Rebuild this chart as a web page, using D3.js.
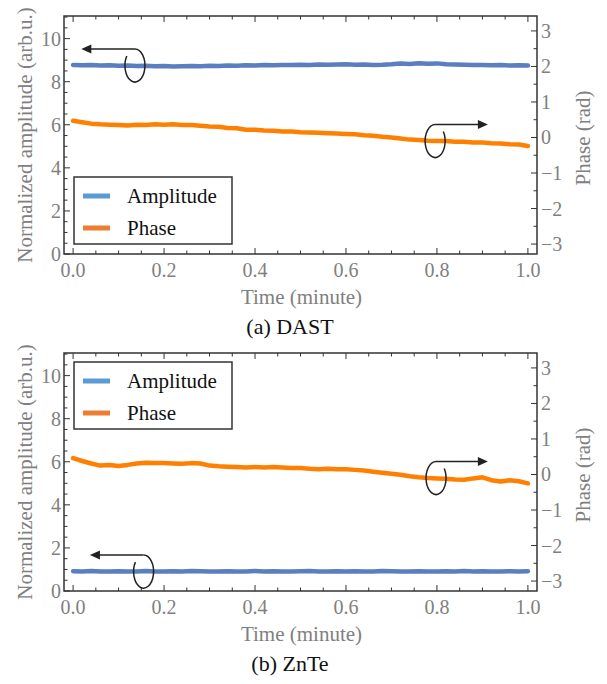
<!DOCTYPE html>
<html>
<head>
<meta charset="utf-8">
<script src="https://cdn.jsdelivr.net/npm/d3@7"></script>
</head>
<body style="margin:0">
<script>
// sampling times (minute)
var time = [0.00,0.02,0.04,0.06,0.08,0.10,0.12,0.14,0.16,0.18,
            0.20,0.22,0.24,0.26,0.28,0.30,0.32,0.34,0.36,0.38,
            0.40,0.42,0.44,0.46,0.48,0.50,0.52,0.54,0.56,0.58,
            0.60,0.62,0.64,0.66,0.68,0.70,0.72,0.74,0.76,0.78,
            0.80,0.82,0.84,0.86,0.88,0.90,0.92,0.94,0.96,0.98,1.00];

// (a) DAST
var ampA = [8.78,8.76,8.77,8.75,8.76,8.74,8.75,8.73,8.74,8.72,
            8.73,8.71,8.72,8.73,8.72,8.74,8.73,8.75,8.74,8.76,
            8.75,8.77,8.76,8.78,8.77,8.79,8.78,8.80,8.79,8.80,
            8.81,8.79,8.80,8.78,8.79,8.81,8.84,8.82,8.86,8.83,
            8.85,8.81,8.80,8.79,8.77,8.78,8.76,8.77,8.75,8.76,8.75];
var phaseA = [0.47,0.43,0.39,0.37,0.36,0.35,0.34,0.36,0.35,0.37,
              0.36,0.37,0.35,0.35,0.33,0.31,0.30,0.27,0.26,0.22,
              0.22,0.20,0.19,0.17,0.17,0.15,0.14,0.13,0.12,0.11,
              0.10,0.09,0.06,0.05,0.02,0.00,-0.03,-0.06,-0.07,-0.09,
              -0.10,-0.10,-0.12,-0.12,-0.14,-0.14,-0.16,-0.17,-0.19,-0.20,-0.24];

// (b) ZnTe
var ampB = [0.92,0.91,0.93,0.90,0.91,0.92,0.90,0.91,0.93,0.91,
            0.90,0.92,0.91,0.93,0.92,0.90,0.91,0.92,0.90,0.91,
            0.93,0.91,0.92,0.90,0.91,0.92,0.93,0.91,0.90,0.92,
            0.91,0.92,0.90,0.91,0.93,0.92,0.90,0.91,0.92,0.91,
            0.90,0.92,0.91,0.93,0.91,0.92,0.90,0.91,0.92,0.91,0.92];
var phaseB = [0.46,0.38,0.31,0.25,0.27,0.24,0.27,0.31,0.33,0.32,
              0.32,0.31,0.30,0.32,0.31,0.25,0.23,0.22,0.21,0.20,
              0.21,0.20,0.21,0.20,0.18,0.18,0.16,0.15,0.16,0.15,
              0.15,0.13,0.11,0.08,0.05,0.02,-0.01,-0.05,-0.08,-0.10,
              -0.11,-0.12,-0.14,-0.15,-0.11,-0.08,-0.16,-0.20,-0.16,-0.19,-0.25];

var seriesNames = ["Amplitude", "Phase"];
var captions = ["(a) DAST", "(b) ZnTe"];
var xTicks = [0, 0.2, 0.4, 0.6, 0.8, 1.0];
var leftTicks = [0, 2, 4, 6, 8, 10];
var rightTicks = [-3, -2, -1, 0, 1, 2, 3];

var W = 607, H = 684;
var left = 64, right = 537, plotH = 238;
var gray = "#808080", frameCol = "#333";
var lineCols = ["#5a7ebf", "#ff8000"];
var swatchCols = ["#5b9bd5", "#ed7d31"];

var svg = d3.select("body").append("svg")
  .attr("width", W).attr("height", H)
  .style("font-family", "serif");

var x = d3.scaleLinear().domain([-0.02, 1.02]).range([left, right]);

function addText(sel, size, fill) {
  return sel.append("text")
    .style("font-family", "serif")
    .attr("font-size", size)
    .attr("fill", fill);
}

function drawPanel(top, amp, phase, caption, legendY, arrowL, arrowR) {
  var bottom = top + plotH;
  var yL = d3.scaleLinear().domain([0, 11.05]).range([bottom, top]);
  var yR = d3.scaleLinear().domain([-3.28, 3.42]).range([bottom, top]);
  var g = svg.append("g");

  // data lines
  var ampLine = d3.line().x(function(d, i){ return x(time[i]); }).y(function(d){ return yL(d); });
  var phLine = d3.line().x(function(d, i){ return x(time[i]); }).y(function(d){ return yR(d); });
  g.append("path").datum(amp).attr("d", ampLine)
    .attr("fill", "none").attr("stroke", lineCols[0]).attr("stroke-width", 4.5)
    .attr("stroke-linejoin", "round").attr("stroke-linecap", "round");
  g.append("path").datum(phase).attr("d", phLine)
    .attr("fill", "none").attr("stroke", lineCols[1]).attr("stroke-width", 4.5)
    .attr("stroke-linejoin", "round").attr("stroke-linecap", "round");

  // ticks (inside the frame)
  var minorX = d3.range(0, 1.0001, 0.05);
  function isMajorX(d){ return xTicks.some(function(t){ return Math.abs(t - d) < 1e-6; }); }
  g.selectAll(null).data(minorX).enter().append("line")
    .attr("x1", function(d){ return x(d); }).attr("x2", function(d){ return x(d); })
    .attr("y1", bottom).attr("y2", function(d){ return bottom - (isMajorX(d) ? 6 : 3.5); })
    .attr("stroke", frameCol).attr("stroke-width", 1);
  g.selectAll(null).data(minorX).enter().append("line")
    .attr("x1", function(d){ return x(d); }).attr("x2", function(d){ return x(d); })
    .attr("y1", top).attr("y2", function(d){ return top + (isMajorX(d) ? 6 : 3.5); })
    .attr("stroke", frameCol).attr("stroke-width", 1);
  var minorL = d3.range(0, 11.01, 0.5);
  g.selectAll(null).data(minorL).enter().append("line")
    .attr("y1", function(d){ return yL(d); }).attr("y2", function(d){ return yL(d); })
    .attr("x1", left).attr("x2", function(d){ return left + (d % 2 === 0 ? 6 : 3.5); })
    .attr("stroke", frameCol).attr("stroke-width", 1);
  var minorR = d3.range(-3, 3.01, 0.5);
  g.selectAll(null).data(minorR).enter().append("line")
    .attr("y1", function(d){ return yR(d); }).attr("y2", function(d){ return yR(d); })
    .attr("x1", right).attr("x2", function(d){ return right - (d % 1 === 0 ? 6 : 3.5); })
    .attr("stroke", frameCol).attr("stroke-width", 1);

  // frame
  g.append("rect").attr("x", left).attr("y", top)
    .attr("width", right - left).attr("height", plotH)
    .attr("fill", "none").attr("stroke", frameCol).attr("stroke-width", 1.5);

  // tick labels
  xTicks.forEach(function(d){
    addText(g, 20, gray).attr("x", x(d)).attr("y", bottom + 23)
      .attr("text-anchor", "middle").text(d3.format(".1f")(d));
  });
  leftTicks.forEach(function(d){
    addText(g, 20, gray).attr("x", left - 3).attr("y", yL(d) + 7)
      .attr("text-anchor", "end").text(d);
  });
  rightTicks.forEach(function(d){
    addText(g, 20, gray).attr("x", right + 4).attr("y", yR(d) + 7)
      .attr("text-anchor", "start").text(d < 0 ? "\u2212" + (-d) : d);
  });

  // axis labels
  addText(g, 21, gray).attr("transform", "translate(32," + (top + plotH / 2) + ") rotate(-90)")
    .attr("text-anchor", "middle")
    .text("Normalized amplitude (arb.u.)");
  addText(g, 21, gray).attr("transform", "translate(590," + (top + plotH / 2 + 3) + ") rotate(-90)")
    .attr("text-anchor", "middle")
    .text("Phase (rad)");
  addText(g, 21, gray).attr("x", (left + right) / 2 + 1).attr("y", bottom + 50)
    .attr("text-anchor", "middle")
    .text("Time (minute)");
  addText(g, 22, "#111").attr("x", 290).attr("y", bottom + 80)
    .attr("text-anchor", "middle")
    .text(caption);

  // legend
  var lg = g.append("g").attr("transform", "translate(74," + (top + legendY) + ")");
  lg.append("rect").attr("width", 158).attr("height", 67)
    .attr("fill", "#fff").attr("stroke", frameCol).attr("stroke-width", 1.5);
  seriesNames.forEach(function(name, i){
    var yy = 19 + i * 32;
    lg.append("line").attr("x1", 9).attr("x2", 36).attr("y1", yy).attr("y2", yy)
      .attr("stroke", swatchCols[i]).attr("stroke-width", 5);
    addText(lg, 21, "#111").attr("x", 53).attr("y", yy + 7).text(name);
  });

  // rotation arrows pointing to each axis
  drawArrow(g, x(arrowL.t), yL(arrowL.v), x(arrowL.tip), -1);
  drawArrow(g, x(arrowR.t), yR(arrowR.v), x(arrowR.tip), 1);
}

function drawArrow(g, cx, cy, tipX, dir) {
  var rx = 10, ry = 16.5;
  var a = (dir < 0 ? 215 : -35) * Math.PI / 180;
  var ex = cx + rx * Math.cos(a), ey = cy + ry * Math.sin(a);
  g.append("path")
    .attr("d", "M" + cx + "," + (cy - ry) + " A" + rx + "," + ry + " 0 1 " + (dir < 0 ? 1 : 0) + " " + ex + "," + ey)
    .attr("fill", "none").attr("stroke", "#222").attr("stroke-width", 1.5);
  var ly = cy - ry;
  g.append("line").attr("x1", cx).attr("y1", ly).attr("x2", tipX - dir * 6).attr("y2", ly)
    .attr("stroke", "#222").attr("stroke-width", 1.5);
  g.append("path")
    .attr("d", "M" + tipX + "," + ly + " L" + (tipX - dir * 10) + "," + (ly - 4.5) + " L" + (tipX - dir * 10) + "," + (ly + 4.5) + "Z")
    .attr("fill", "#222");
}

drawPanel(16, ampA, phaseA, captions[0], 161,
  {t: 0.136, v: 8.75, tip: 0.018}, {t: 0.796, v: -0.10, tip: 0.912});
drawPanel(353, ampB, phaseB, captions[1], 9,
  {t: 0.155, v: 0.9, tip: 0.037}, {t: 0.798, v: -0.10, tip: 0.912});
</script>
</body>
</html>
